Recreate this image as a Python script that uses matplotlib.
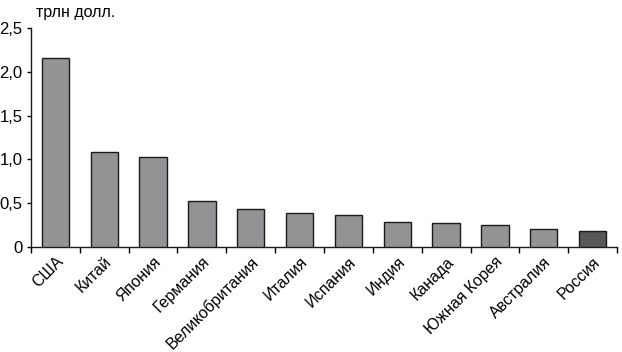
import matplotlib
matplotlib.use("Agg")
import matplotlib.pyplot as plt
from matplotlib.ticker import FixedLocator

categories = ["США", "Китай", "Япония", "Германия", "Великобритания", "Италия",
              "Испания", "Индия", "Канада", "Южная Корея", "Австралия", "Россия"]
values = [2.16, 1.08, 1.03, 0.52, 0.43, 0.385, 0.36, 0.29, 0.27, 0.25, 0.20, 0.18]
yticks = [0, 0.5, 1.0, 1.5, 2.0, 2.5]
ytick_labels = ["0", "0,5", "1,0", "1,5", "2,0", "2,5"]
unit_label = "трлн долл."

plt.rcParams['font.family'] = ['Liberation Sans', 'DejaVu Sans']

fig = plt.figure(figsize=(6.22, 3.52), dpi=100)
ax = fig.add_axes([31/622, 1-247/352, 586/622, 219/352])

colors = ["#939396"] * (len(categories) - 1) + ["#58585a"]
x = list(range(len(categories)))
ax.bar(x, values, width=0.56, color=colors, edgecolor="#1a1a1a", linewidth=1.0, zorder=3)

ax.set_xlim(-0.5, len(categories) - 0.5)
ax.set_ylim(0, 2.5)
ax.set_yticks(yticks)
ax.set_yticklabels(ytick_labels, fontsize=12)
ax.set_xticks(x)
ax.set_xticklabels(categories, rotation=45, ha="right", va="top",
                   rotation_mode="anchor", fontsize=11.5)
ax.xaxis.set_minor_locator(FixedLocator([i - 0.5 for i in range(len(categories) + 1)]))
ax.tick_params(axis="x", which="major", length=0, pad=5)
ax.tick_params(axis="x", which="minor", length=4, width=1, direction="out")
ax.tick_params(axis="y", length=3, width=1, direction="out", pad=3)

for s in ["top", "right"]:
    ax.spines[s].set_visible(False)
for s in ["left", "bottom"]:
    ax.spines[s].set_linewidth(1.0)
    ax.spines[s].set_color("#1a1a1a")

fig.text(36/622, 1-13/352, unit_label, fontsize=11.5, va="center", ha="left")

fig.savefig("out.png", dpi=100)
